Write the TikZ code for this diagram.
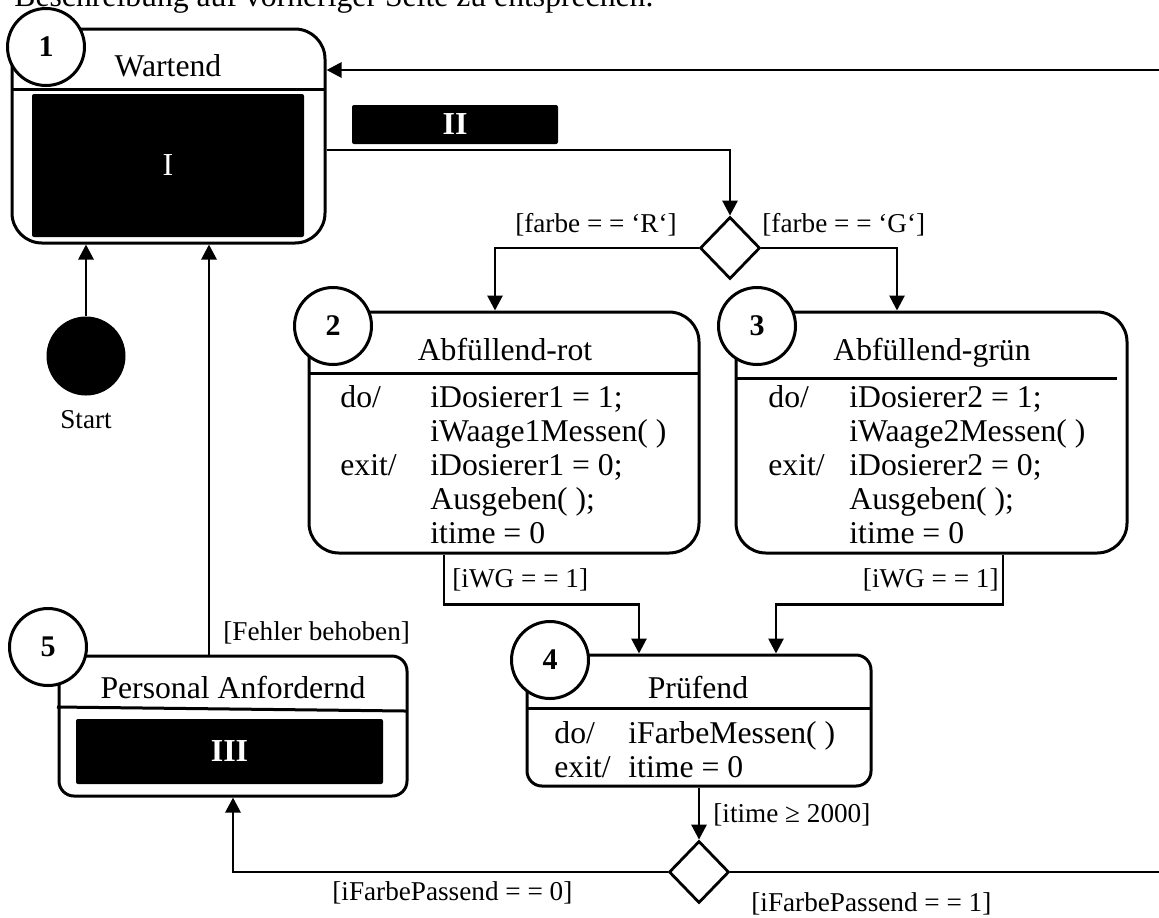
\documentclass[tikz,border=0pt]{standalone}
\usepackage{fontspec}
\setmainfont{Liberation Serif}
\usepackage{tikz}
\usetikzlibrary{positioning, arrows.meta}
\usetikzlibrary{shapes, positioning}

\tikzset{
  stbox/.style={rectangle, draw=black, line width=1.5pt, rounded corners=15pt, inner sep=0pt},
  num/.style={circle, draw=black, fill=white, line width=1.5pt, minimum size=38.5pt, inner sep=0pt, font=\fontsize{15pt}{17pt}\selectfont\bfseries},
  blackbox/.style={rectangle, fill=black, text=white, inner sep=0pt, rounded corners=1pt, font=\fontsize{16pt}{18pt}\selectfont},
  choice/.style={diamond, draw=black, line width=1.4pt, fill=white, minimum width=30pt, minimum height=31pt, inner sep=0pt},
  txt/.style={inner sep=0pt, font=\fontsize{15.85pt}{17pt}\selectfont},
  guard/.style={inner sep=0pt, font=\fontsize{13.6pt}{16pt}\selectfont},
  arr/.style={line width=1.4pt, -{Triangle[length=7.5pt, width=7.5pt]}},
  conn/.style={line width=1.4pt}
}

\begin{document}
\begin{tikzpicture}[x=0.5pt, y=-0.5pt]
\useasboundingbox (0,0) rectangle (1159,917);
\clip (0,0) rectangle (1159,917);

\node[txt, anchor=base west] (kopf) at (14,6) {Beschreibung auf vorheriger Seite zu entsprechen.};

% Zustaende
\node[stbox, minimum width=156.5pt, minimum height=107pt] (s1) at (168.5,136) {};
\node[stbox, minimum width=195pt, minimum height=120.5pt] (s2) at (504,432.5) {};
\node[stbox, minimum width=195.5pt, minimum height=120.5pt] (s3) at (931.5,432.5) {};
\node[stbox, rounded corners=7.5pt, minimum width=172pt, minimum height=65.5pt] (s4) at (699,720.5) {};
\node[stbox, rounded corners=7.5pt, minimum width=174pt, minimum height=70pt] (s5) at (233,726) {};

\draw[line width=1.5pt] (12,89) -- (325,89);
\draw[line width=1.5pt] (309,373) -- (699,373);
\draw[line width=1.5pt] (736,378) -- (1117,378);
\draw[line width=1.5pt] (527,708) -- (871,708);
\draw[line width=1.5pt] (57,707) -- (406,711);

\node[txt, anchor=base] (t1) at (168,76) {Wartend};
\node[txt, anchor=base] (t2) at (505,360) {Abfüllend-rot};
\node[txt, anchor=base] (t3) at (932,360) {Abfüllend-grün};
\node[txt, anchor=base] (t4) at (698,698) {Prüfend};
\node[txt, anchor=base] (t5) at (233,698) {Personal Anfordernd};

\node[blackbox, minimum width=136pt, minimum height=71.5pt] (b1) at (168,165.5) {I};
\node[blackbox, minimum width=103pt, minimum height=19.5pt, font=\fontsize{16pt}{18pt}\selectfont\bfseries] (b2) at (455,124.5) {II};
\node[blackbox, minimum width=153.5pt, minimum height=32.5pt, font=\fontsize{16pt}{18pt}\selectfont\bfseries] (b3) at (229.5,751.5) {III};

\node[txt, anchor=base west] (a2) at (340,407) {\begin{tabular}[t]{@{}p{45pt}@{}l@{}}
do/ & iDosierer1 = 1;\\
 & iWaage1Messen( )\\
exit/ & iDosierer1 = 0;\\
 & Ausgeben( );\\
 & itime = 0
\end{tabular}};
\node[txt, anchor=base west] (a3) at (768,407) {\begin{tabular}[t]{@{}p{40.5pt}@{}l@{}}
do/ & iDosierer2 = 1;\\
 & iWaage2Messen( )\\
exit/ & iDosierer2 = 0;\\
 & Ausgeben( );\\
 & itime = 0
\end{tabular}};
\node[txt, anchor=base west] (a4) at (554,743) {\begin{tabular}[t]{@{}p{37pt}@{}l@{}}
do/ & iFarbeMessen( )\\
exit/ & itime = 0
\end{tabular}};

\node[num] (n1) at (46,47) {1};
\node[num] (n2) at (333,326) {2};
\node[num] (n3) at (757,326) {3};
\node[num] (n4) at (550,660) {4};
\node[num] (n5) at (48,647) {5};

\node[choice] (d1) at (730,248) {};
\node[choice] (d2) at (699,872) {};

\node[circle, fill=black, minimum size=39.5pt, inner sep=0pt] (start) at (86,356) {};
\node[guard, anchor=base] (startlbl) at (86,428) {Start};

\coordinate (r1) at (1165,70);
\coordinate (r2) at (1165,872);
\coordinate (f5) at ([xshift=-12pt]s5.north);

% Uebergaenge
\draw[arr] (r1) -- (s1.east |- r1);
\draw[arr] ([yshift=-7pt]s1.east) -| (d1.north);
\draw[arr] (d1.west) -| ([xshift=-4.5pt]s2.north);
\draw[arr] (d1.east) -| ([xshift=-17.25pt]s3.north);
\draw[arr] ([xshift=-30pt]s2.south) -- ++(0,50) -| ([xshift=-30pt]s4.north);
\draw[arr] ([xshift=35.75pt]s3.south) -- ++(0,50) -| ([xshift=38.5pt]s4.north);
\draw[arr] (s4.south) -- (d2.north);
\draw[arr] (d2.west) -| (s5.south);
\draw[conn] (d2.east) -- (r2);
\draw[arr] (f5) -- (f5 |- s1.south);
\draw[arr] (start) -- (start |- s1.south);

\node[guard, anchor=base east] (g1) at (677,232) {[farbe = = ‘R‘]};
\node[guard, anchor=base west] (g2) at (762,232) {[farbe = = ‘G‘]};
\node[guard, anchor=base west] (g3) at (452,587) {[iWG = = 1]};
\node[guard, anchor=base east] (g4) at (999,587) {[iWG = = 1]};
\node[guard, anchor=base west] (g5) at (713,822) {[itime ≥ 2000]};
\node[guard, anchor=base west] (g6) at (332,900) {[iFarbePassend = = 0]};
\node[guard, anchor=base west] (g7) at (751,911) {[iFarbePassend = = 1]};
\node[guard, anchor=base west] (g8) at (223,640) {[Fehler behoben]};
\end{tikzpicture}
\end{document}
